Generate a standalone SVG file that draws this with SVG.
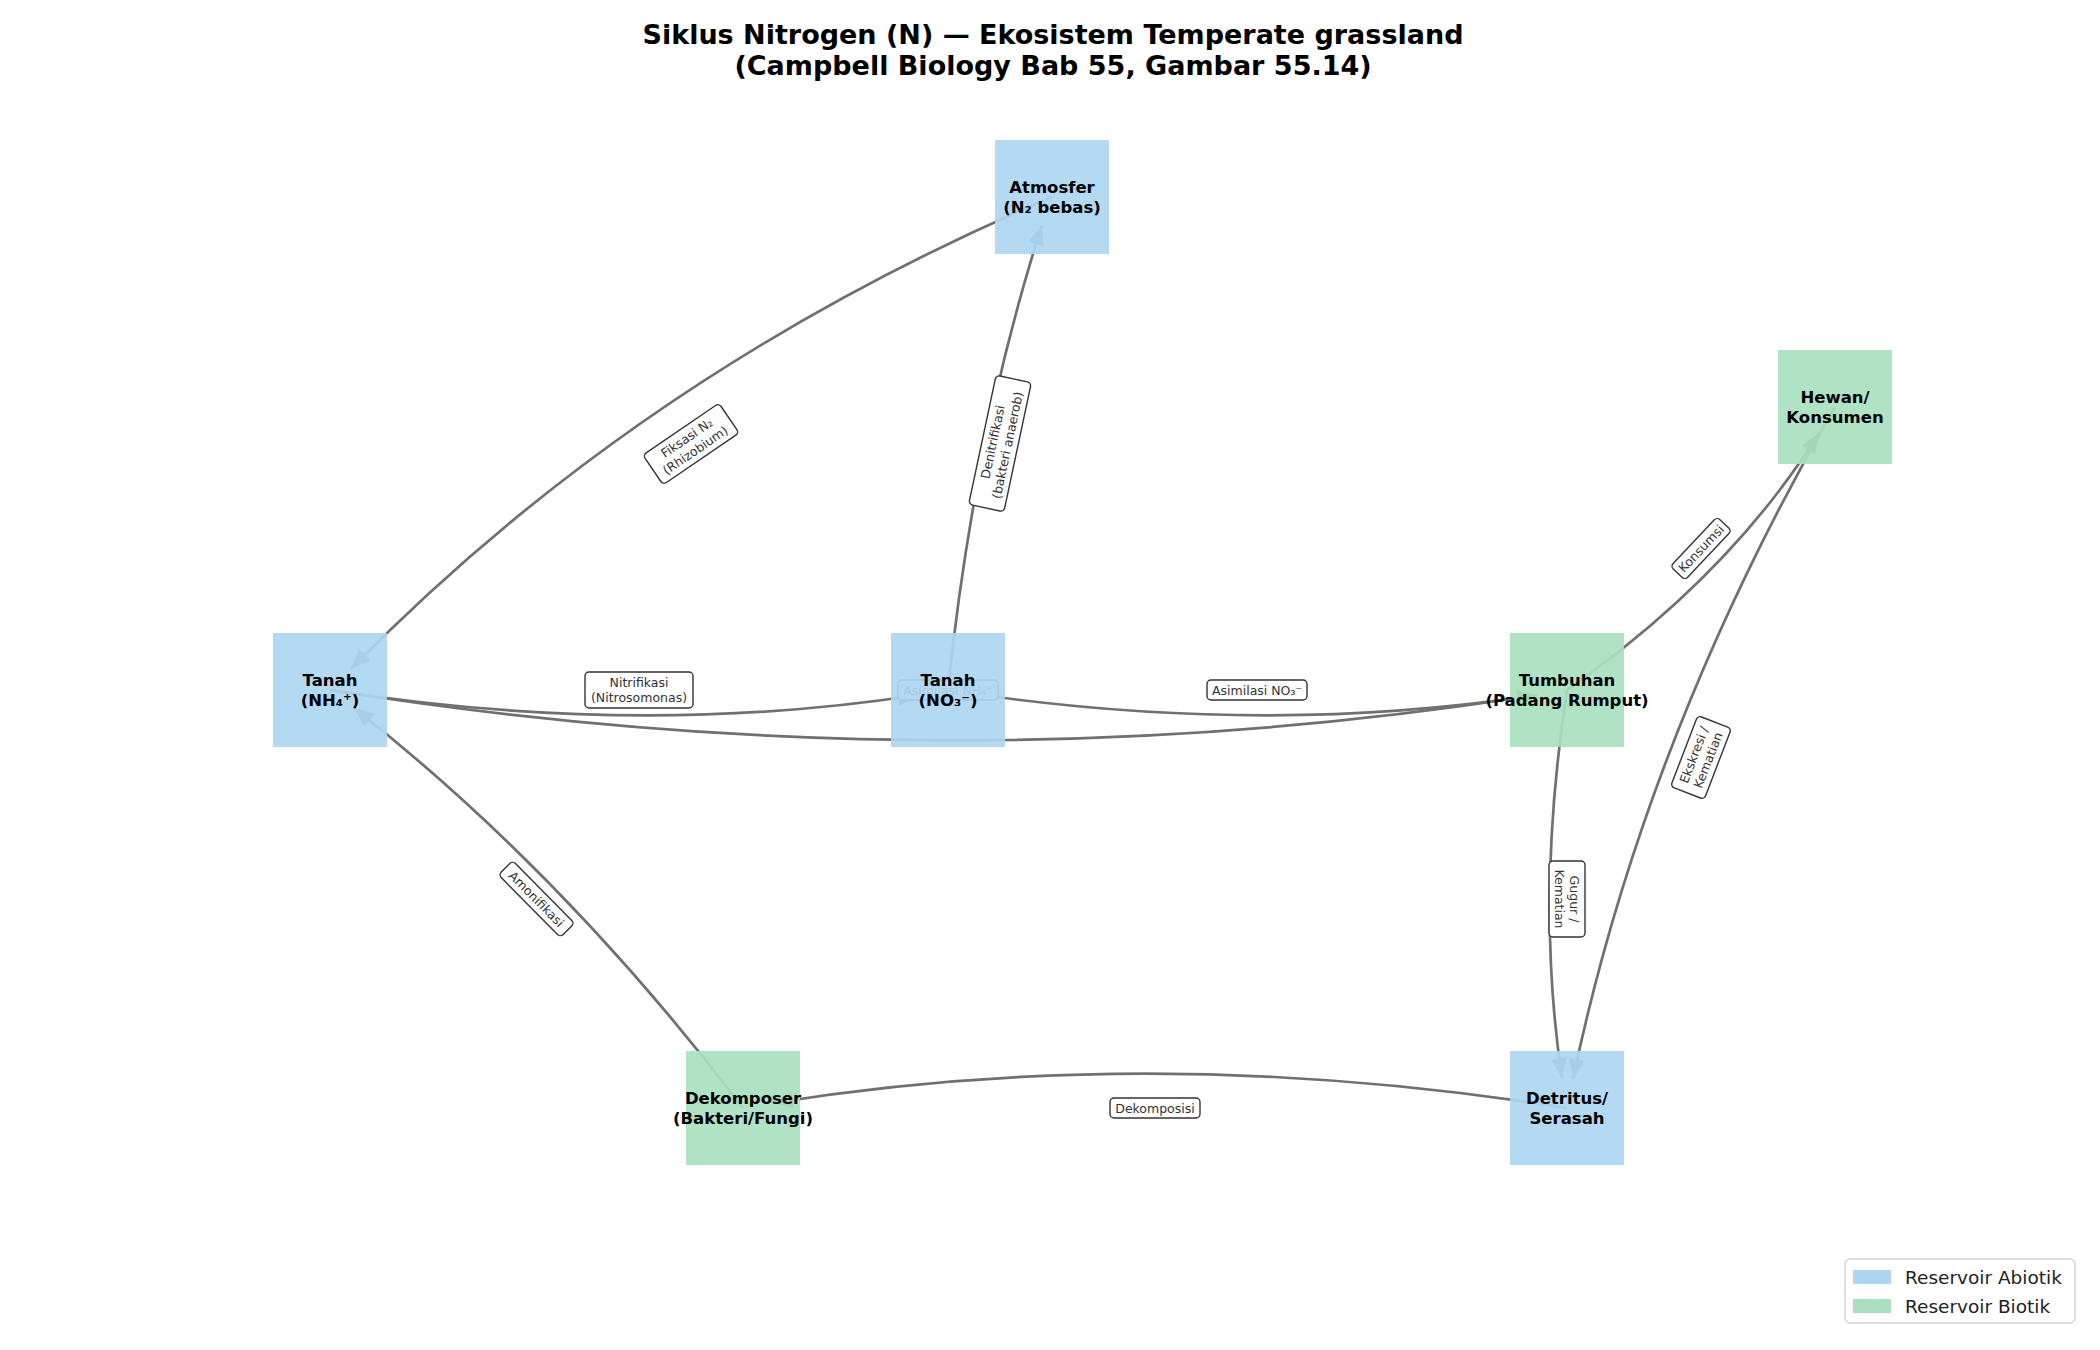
<svg xmlns="http://www.w3.org/2000/svg" width="2100" height="1350" viewBox="0 0 2100 1350">
<style>
.e{fill:none;stroke:#707070;stroke-width:2.7;marker-end:url(#ah)}
.lb rect{fill:#fff;stroke:#333;stroke-width:1.4}
.lb text{font-family:"DejaVu Sans",sans-serif;font-size:12.5px;fill:#333;text-anchor:middle}
.ab{fill:#AED6F1;opacity:0.92}
.bi{fill:#A9DFBF;opacity:0.92}
.nt{font-family:"DejaVu Sans",sans-serif;font-size:16.5px;font-weight:bold;fill:#000;text-anchor:middle}
.tt{font-family:"DejaVu Sans",sans-serif;font-size:27px;font-weight:bold;fill:#000;text-anchor:middle}
.lg{font-family:"DejaVu Sans",sans-serif;font-size:18.5px;fill:#222}
</style>
<defs>
<marker id="ah" markerUnits="userSpaceOnUse" markerWidth="22" markerHeight="16" refX="20" refY="8" orient="auto">
<path d="M0,0 L20,8 L0,16 Z" fill="#707070"/>
</marker>
</defs>
<rect width="2100" height="1350" fill="#fff"/>
<text class="tt" x="1053" y="44">Siklus Nitrogen (N) — Ekosistem Temperate grassland</text>
<text class="tt" x="1053" y="75">(Campbell Biology Bab 55, Gambar 55.14)</text>
<g transform="translate(-1,-1)">
<g id="connectors">
<path class="e" d="M1053,198 Q643,372 352,670"/>
<path class="e" d="M949,691 Q975,438 1043,226"/>
<path class="e" d="M331,691 Q640,739 919,696"/>
<path class="e" d="M949,691 Q1258,739 1538,696"/>
<path class="e" d="M331,691 Q949,789 1538,696"/>
<path class="e" d="M1568,691 Q1731,577 1820,434"/>
<path class="e" d="M1836,408 Q1646,737 1574,1080"/>
<path class="e" d="M1568,691 Q1536,900 1563,1079"/>
<path class="e" d="M1568,1109 Q1156,1043 774,1104"/>
<path class="e" d="M744,1109 Q564,873 355,709"/>
</g>
<g id="edge-labels">
<g class="lb" transform="translate(692,445) rotate(-34.3)"><rect x="-46" y="-18" width="92" height="36" rx="4"/><text y="-3">Fiksasi N₂</text><text y="12">(Rhizobium)</text></g>
<g class="lb" transform="translate(1001,444.5) rotate(-78)"><rect x="-66" y="-18" width="132" height="36" rx="4"/><text y="-3">Denitrifikasi</text><text y="12">(bakteri anaerob)</text></g>
<g class="lb" transform="translate(640,691)"><rect x="-54" y="-18" width="108" height="36" rx="4"/><text y="-3">Nitrifikasi</text><text y="12">(Nitrosomonas)</text></g>
<g class="lb" transform="translate(1258,691)"><rect x="-50" y="-10" width="100" height="20" rx="4"/><text y="4.5">Asimilasi NO₃⁻</text></g>
<g class="lb" transform="translate(949,691)"><rect x="-50" y="-10" width="100" height="20" rx="4"/><text y="4.5">Asimilasi NH₄⁺</text></g>
<g class="lb" transform="translate(1702,549.5) rotate(-46.6)"><rect x="-34" y="-10" width="68" height="20" rx="4"/><text y="4.5">Konsumsi</text></g>
<g class="lb" transform="translate(1702,758.5) rotate(-69)"><rect x="-38" y="-18" width="76" height="36" rx="4"/><text y="-3">Ekskresi /</text><text y="12">Kematian</text></g>
<g class="lb" transform="translate(1568,900) rotate(90)"><rect x="-38" y="-18" width="76" height="36" rx="4"/><text y="-3">Gugur /</text><text y="12">Kematian</text></g>
<g class="lb" transform="translate(1156,1109)"><rect x="-45" y="-10" width="90" height="20" rx="4"/><text y="4.5">Dekomposisi</text></g>
<g class="lb" transform="translate(537.5,900) rotate(45.3)"><rect x="-44" y="-10" width="88" height="20" rx="4"/><text y="4.5">Amonifikasi</text></g>
</g>
<g id="atmosfer"><rect class="ab" x="996" y="141" width="114" height="114"/><text class="nt" x="1053" y="194">Atmosfer</text><text class="nt" x="1053" y="214">(N₂ bebas)</text></g>
<g id="tanah-nh4"><rect class="ab" x="274" y="634" width="114" height="114"/><text class="nt" x="331" y="687">Tanah</text><text class="nt" x="331" y="707">(NH₄⁺)</text></g>
<g id="tanah-no3"><rect class="ab" x="892" y="634" width="114" height="114"/><text class="nt" x="949" y="687">Tanah</text><text class="nt" x="949" y="707">(NO₃⁻)</text></g>
<g id="tumbuhan"><rect class="bi" x="1511" y="634" width="114" height="114"/><text class="nt" x="1568" y="687">Tumbuhan</text><text class="nt" x="1568" y="707">(Padang Rumput)</text></g>
<g id="hewan"><rect class="bi" x="1779" y="351" width="114" height="114"/><text class="nt" x="1836" y="404">Hewan/</text><text class="nt" x="1836" y="424">Konsumen</text></g>
<g id="dekomposer"><rect class="bi" x="687" y="1052" width="114" height="114"/><text class="nt" x="744" y="1105">Dekomposer</text><text class="nt" x="744" y="1125">(Bakteri/Fungi)</text></g>
<g id="detritus"><rect class="ab" x="1511" y="1052" width="114" height="114"/><text class="nt" x="1568" y="1105">Detritus/</text><text class="nt" x="1568" y="1125">Serasah</text></g>
</g>
<g id="legend">
<rect x="1845" y="1259" width="230" height="64" rx="5" fill="#fff" stroke="#d5d5d5" stroke-width="1.5"/>
<rect x="1853" y="1270" width="38" height="14" fill="#AED6F1"/>
<text class="lg" x="1905" y="1284">Reservoir Abiotik</text>
<rect x="1853" y="1299" width="38" height="14" fill="#A9DFBF"/>
<text class="lg" x="1905" y="1313">Reservoir Biotik</text>
</g>
</svg>
